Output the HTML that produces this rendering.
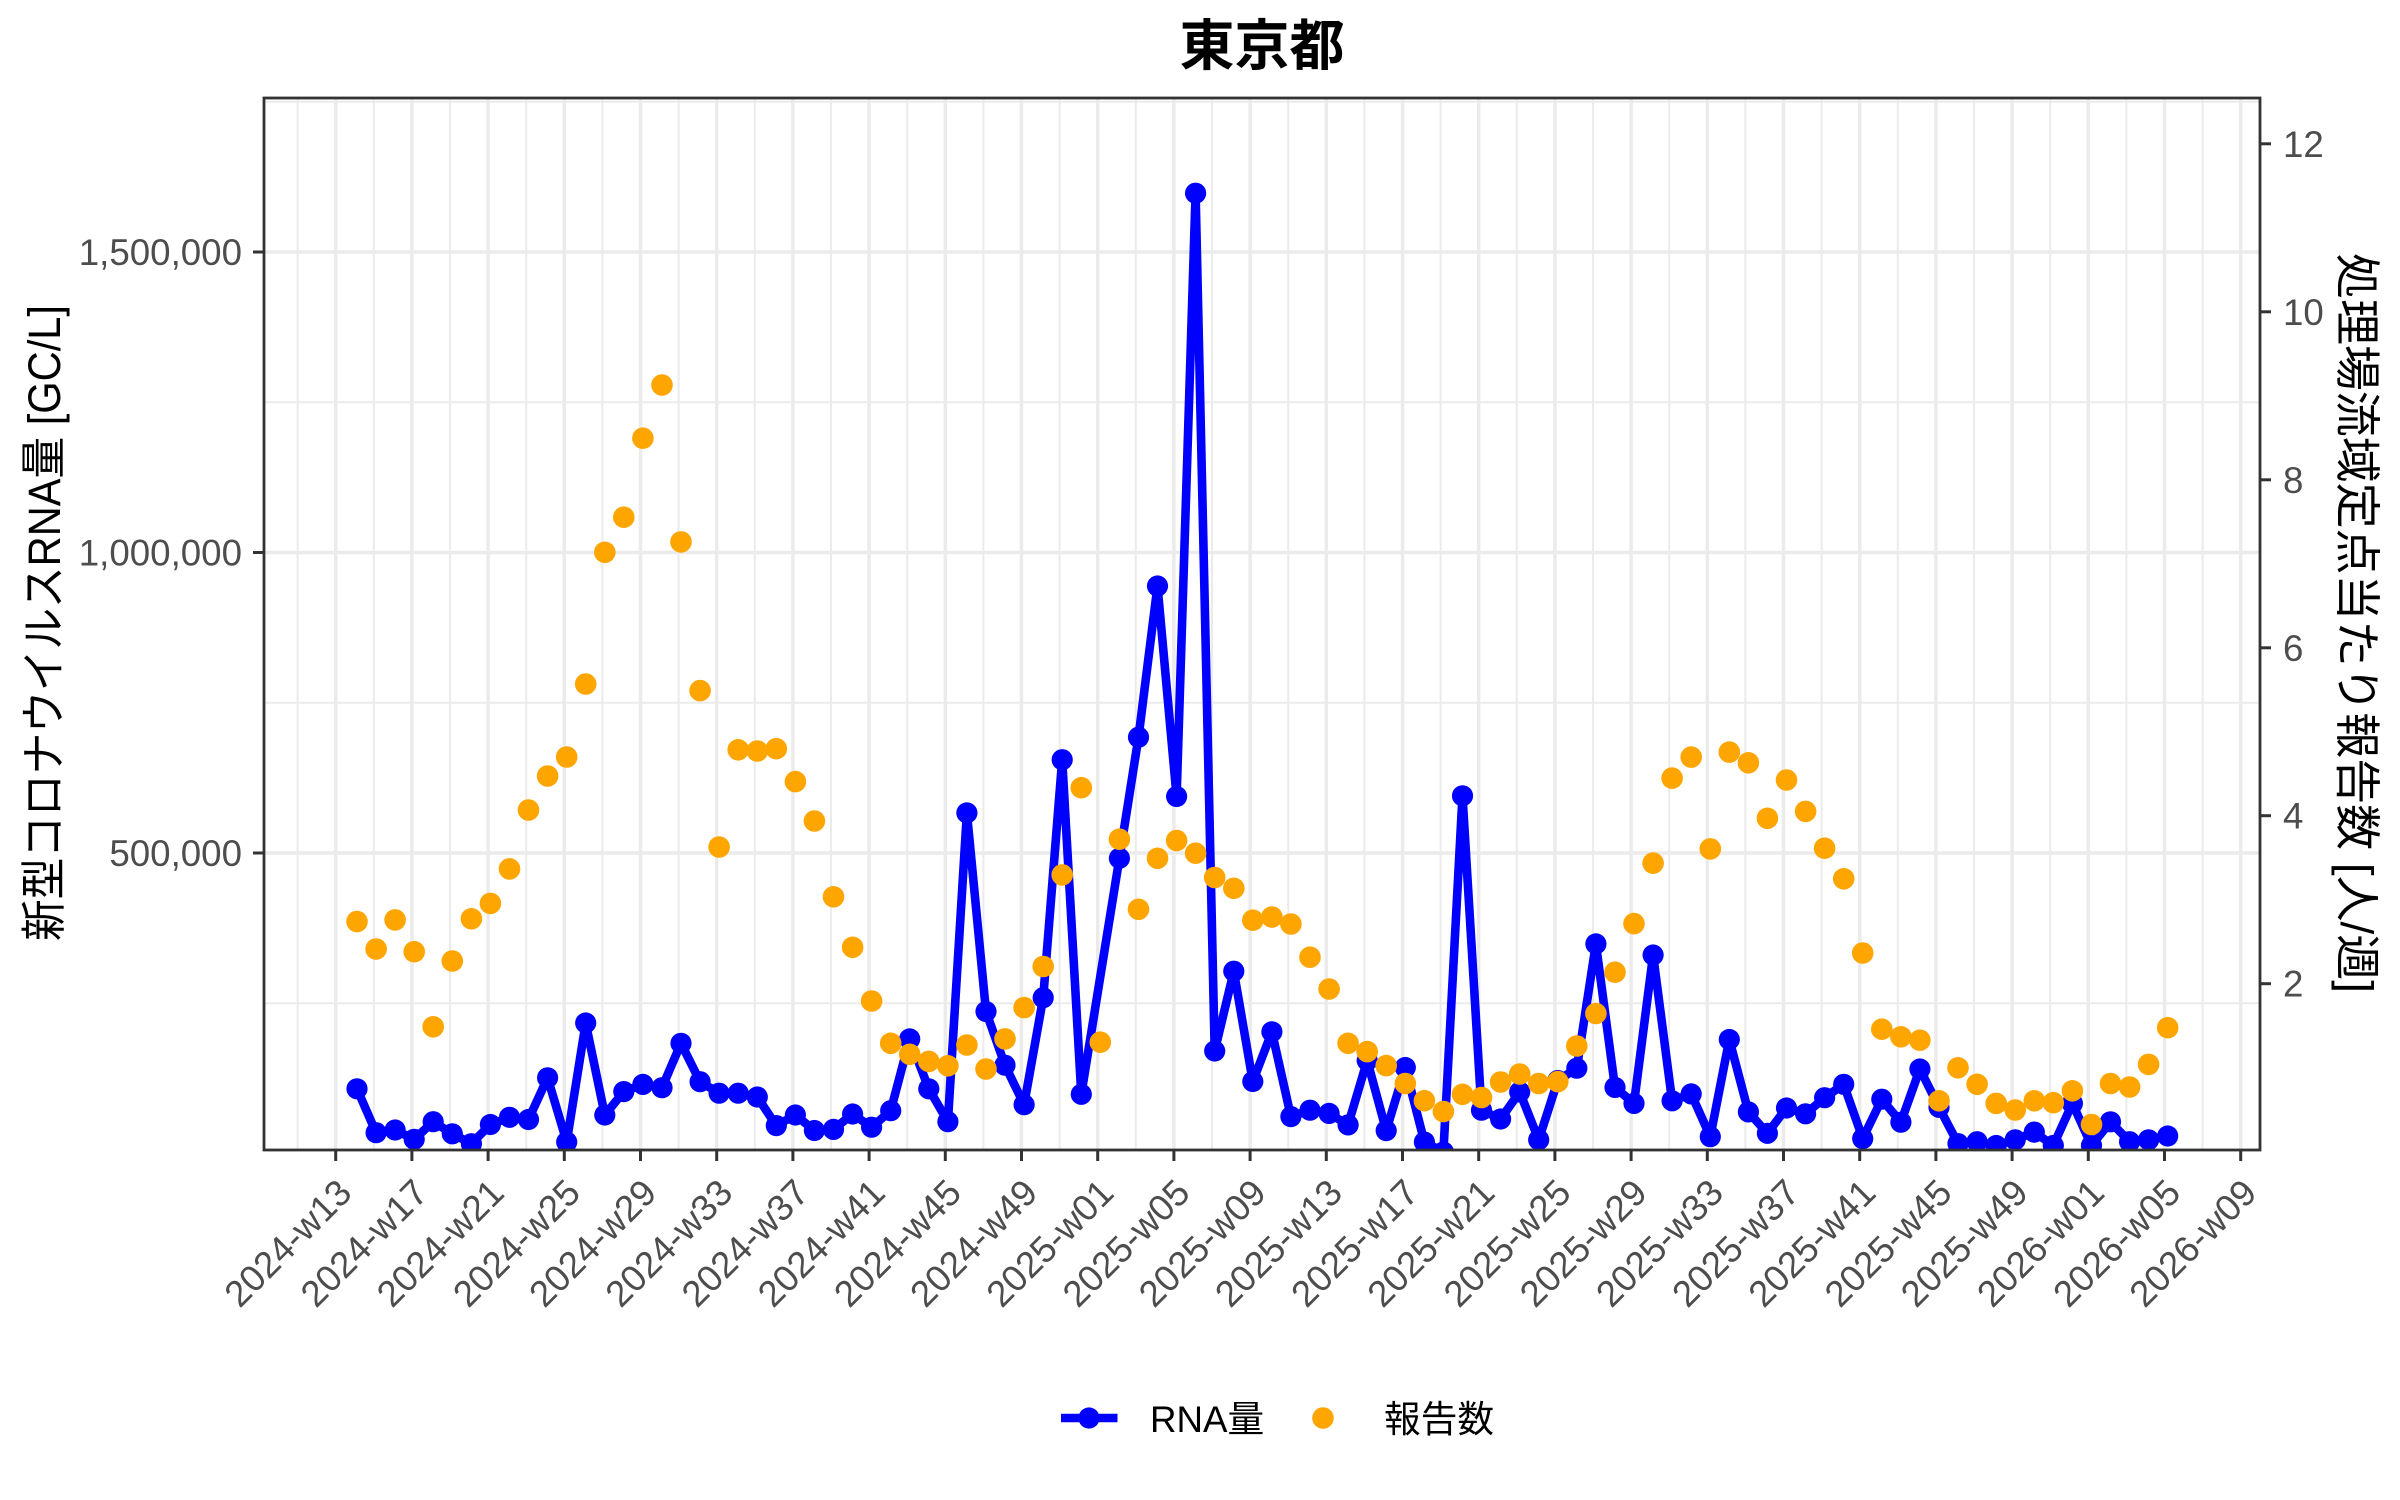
<!DOCTYPE html>
<html><head><meta charset="utf-8"><style>
html,body{margin:0;padding:0;background:#fff;}
svg{display:block;}
text{font-family:"Liberation Sans","Noto Sans CJK JP",sans-serif;}
</style></head><body>
<svg width="2400" height="1500" viewBox="0 0 2400 1500" xmlns="http://www.w3.org/2000/svg">
<rect x="0" y="0" width="2400" height="1500" fill="#fff"/>
<defs><clipPath id="pc"><rect x="264" y="98" width="1996" height="1052"/></clipPath></defs>
<g clip-path="url(#pc)">
<g stroke="#EBEBEB" stroke-width="2">
<line x1="264" x2="2260" y1="1003.3" y2="1003.3"/><line x1="264" x2="2260" y1="702.7" y2="702.7"/><line x1="264" x2="2260" y1="402.2" y2="402.2"/><line x1="264" x2="2260" y1="101.7" y2="101.7"/>
<line y1="98" y2="1150" x1="297.6" x2="297.6"/><line y1="98" y2="1150" x1="373.8" x2="373.8"/><line y1="98" y2="1150" x1="450" x2="450"/><line y1="98" y2="1150" x1="526.2" x2="526.2"/><line y1="98" y2="1150" x1="602.4" x2="602.4"/><line y1="98" y2="1150" x1="678.6" x2="678.6"/><line y1="98" y2="1150" x1="754.8" x2="754.8"/><line y1="98" y2="1150" x1="831" x2="831"/><line y1="98" y2="1150" x1="907.2" x2="907.2"/><line y1="98" y2="1150" x1="983.4" x2="983.4"/><line y1="98" y2="1150" x1="1059.6" x2="1059.6"/><line y1="98" y2="1150" x1="1135.8" x2="1135.8"/><line y1="98" y2="1150" x1="1212" x2="1212"/><line y1="98" y2="1150" x1="1288.2" x2="1288.2"/><line y1="98" y2="1150" x1="1364.4" x2="1364.4"/><line y1="98" y2="1150" x1="1440.6" x2="1440.6"/><line y1="98" y2="1150" x1="1516.8" x2="1516.8"/><line y1="98" y2="1150" x1="1593" x2="1593"/><line y1="98" y2="1150" x1="1669.2" x2="1669.2"/><line y1="98" y2="1150" x1="1745.4" x2="1745.4"/><line y1="98" y2="1150" x1="1821.6" x2="1821.6"/><line y1="98" y2="1150" x1="1897.8" x2="1897.8"/><line y1="98" y2="1150" x1="1974" x2="1974"/><line y1="98" y2="1150" x1="2050.2" x2="2050.2"/><line y1="98" y2="1150" x1="2126.4" x2="2126.4"/><line y1="98" y2="1150" x1="2202.6" x2="2202.6"/>
</g>
<g stroke="#EBEBEB" stroke-width="3.5">
<line x1="264" x2="2260" y1="853" y2="853"/><line x1="264" x2="2260" y1="552.5" y2="552.5"/><line x1="264" x2="2260" y1="252" y2="252"/>
<line y1="98" y2="1150" x1="335.7" x2="335.7"/><line y1="98" y2="1150" x1="411.9" x2="411.9"/><line y1="98" y2="1150" x1="488.1" x2="488.1"/><line y1="98" y2="1150" x1="564.3" x2="564.3"/><line y1="98" y2="1150" x1="640.5" x2="640.5"/><line y1="98" y2="1150" x1="716.7" x2="716.7"/><line y1="98" y2="1150" x1="792.9" x2="792.9"/><line y1="98" y2="1150" x1="869.1" x2="869.1"/><line y1="98" y2="1150" x1="945.3" x2="945.3"/><line y1="98" y2="1150" x1="1021.5" x2="1021.5"/><line y1="98" y2="1150" x1="1097.7" x2="1097.7"/><line y1="98" y2="1150" x1="1173.9" x2="1173.9"/><line y1="98" y2="1150" x1="1250.1" x2="1250.1"/><line y1="98" y2="1150" x1="1326.3" x2="1326.3"/><line y1="98" y2="1150" x1="1402.5" x2="1402.5"/><line y1="98" y2="1150" x1="1478.7" x2="1478.7"/><line y1="98" y2="1150" x1="1554.9" x2="1554.9"/><line y1="98" y2="1150" x1="1631.1" x2="1631.1"/><line y1="98" y2="1150" x1="1707.3" x2="1707.3"/><line y1="98" y2="1150" x1="1783.5" x2="1783.5"/><line y1="98" y2="1150" x1="1859.7" x2="1859.7"/><line y1="98" y2="1150" x1="1935.9" x2="1935.9"/><line y1="98" y2="1150" x1="2012.1" x2="2012.1"/><line y1="98" y2="1150" x1="2088.3" x2="2088.3"/><line y1="98" y2="1150" x1="2164.5" x2="2164.5"/><line y1="98" y2="1150" x1="2240.7" x2="2240.7"/>
</g>
<polyline fill="none" stroke="#0000FF" stroke-width="8.6" stroke-linejoin="round" points="357,1088.8 376.1,1132.7 395.1,1130 414.2,1139.3 433.2,1121.7 452.3,1133.8 471.4,1143.7 490.4,1124.5 509.5,1117.3 528.5,1119.5 547.6,1077.8 566.7,1142 585.7,1023 604.8,1115 623.8,1091.6 642.9,1084.4 662,1087.7 681,1043.3 700.1,1081.7 719.1,1093.2 738.2,1093.2 757.3,1097 776.3,1125.6 795.4,1115 814.4,1130.5 833.5,1129.4 852.6,1114 871.6,1127.2 890.7,1110.7 909.7,1038.9 928.8,1088.8 947.9,1121.7 966.9,812.9 986,1011.5 1005,1065.2 1024.1,1104.7 1043.2,997.7 1062.2,759.7 1081.3,1094.3 1119.4,858.3 1138.5,737.2 1157.5,586 1176.6,796.5 1195.6,193.2 1214.7,1051 1233.8,971.2 1252.8,1081.5 1271.9,1031.8 1290.9,1116.6 1310,1110.2 1329.1,1113.4 1348.1,1124.9 1367.2,1060.5 1386.2,1130.6 1405.3,1067.5 1424.4,1142 1443.4,1152 1462.5,795.8 1481.5,1110.2 1500.6,1119 1519.7,1092 1538.7,1139.8 1557.8,1080.5 1576.8,1068.2 1595.9,943.9 1615,1087.4 1634,1103.4 1653.1,955 1672.1,1100.8 1691.2,1093.9 1710.3,1136.7 1729.3,1039.5 1748.4,1111.9 1767.4,1133.3 1786.5,1108 1805.6,1113.8 1824.6,1097.7 1843.7,1084.3 1862.7,1138.6 1881.8,1099.2 1900.9,1122.2 1919.9,1069 1939,1107.3 1958,1143.6 1977.1,1141.7 1996.2,1145.5 2015.2,1139.8 2034.3,1132.1 2053.3,1145.5 2072.4,1103.4 2091.5,1145.5 2110.5,1121.8 2129.6,1141.7 2148.6,1139.8 2167.7,1136"/>
<g fill="#0000FF">
<circle cx="357" cy="1088.8" r="10.6"/><circle cx="376.1" cy="1132.7" r="10.6"/><circle cx="395.1" cy="1130" r="10.6"/><circle cx="414.2" cy="1139.3" r="10.6"/><circle cx="433.2" cy="1121.7" r="10.6"/><circle cx="452.3" cy="1133.8" r="10.6"/><circle cx="471.4" cy="1143.7" r="10.6"/><circle cx="490.4" cy="1124.5" r="10.6"/><circle cx="509.5" cy="1117.3" r="10.6"/><circle cx="528.5" cy="1119.5" r="10.6"/><circle cx="547.6" cy="1077.8" r="10.6"/><circle cx="566.7" cy="1142" r="10.6"/><circle cx="585.7" cy="1023" r="10.6"/><circle cx="604.8" cy="1115" r="10.6"/><circle cx="623.8" cy="1091.6" r="10.6"/><circle cx="642.9" cy="1084.4" r="10.6"/><circle cx="662" cy="1087.7" r="10.6"/><circle cx="681" cy="1043.3" r="10.6"/><circle cx="700.1" cy="1081.7" r="10.6"/><circle cx="719.1" cy="1093.2" r="10.6"/><circle cx="738.2" cy="1093.2" r="10.6"/><circle cx="757.3" cy="1097" r="10.6"/><circle cx="776.3" cy="1125.6" r="10.6"/><circle cx="795.4" cy="1115" r="10.6"/><circle cx="814.4" cy="1130.5" r="10.6"/><circle cx="833.5" cy="1129.4" r="10.6"/><circle cx="852.6" cy="1114" r="10.6"/><circle cx="871.6" cy="1127.2" r="10.6"/><circle cx="890.7" cy="1110.7" r="10.6"/><circle cx="909.7" cy="1038.9" r="10.6"/><circle cx="928.8" cy="1088.8" r="10.6"/><circle cx="947.9" cy="1121.7" r="10.6"/><circle cx="966.9" cy="812.9" r="10.6"/><circle cx="986" cy="1011.5" r="10.6"/><circle cx="1005" cy="1065.2" r="10.6"/><circle cx="1024.1" cy="1104.7" r="10.6"/><circle cx="1043.2" cy="997.7" r="10.6"/><circle cx="1062.2" cy="759.7" r="10.6"/><circle cx="1081.3" cy="1094.3" r="10.6"/><circle cx="1119.4" cy="858.3" r="10.6"/><circle cx="1138.5" cy="737.2" r="10.6"/><circle cx="1157.5" cy="586" r="10.6"/><circle cx="1176.6" cy="796.5" r="10.6"/><circle cx="1195.6" cy="193.2" r="10.6"/><circle cx="1214.7" cy="1051" r="10.6"/><circle cx="1233.8" cy="971.2" r="10.6"/><circle cx="1252.8" cy="1081.5" r="10.6"/><circle cx="1271.9" cy="1031.8" r="10.6"/><circle cx="1290.9" cy="1116.6" r="10.6"/><circle cx="1310" cy="1110.2" r="10.6"/><circle cx="1329.1" cy="1113.4" r="10.6"/><circle cx="1348.1" cy="1124.9" r="10.6"/><circle cx="1367.2" cy="1060.5" r="10.6"/><circle cx="1386.2" cy="1130.6" r="10.6"/><circle cx="1405.3" cy="1067.5" r="10.6"/><circle cx="1424.4" cy="1142" r="10.6"/><circle cx="1443.4" cy="1152" r="10.6"/><circle cx="1462.5" cy="795.8" r="10.6"/><circle cx="1481.5" cy="1110.2" r="10.6"/><circle cx="1500.6" cy="1119" r="10.6"/><circle cx="1519.7" cy="1092" r="10.6"/><circle cx="1538.7" cy="1139.8" r="10.6"/><circle cx="1557.8" cy="1080.5" r="10.6"/><circle cx="1576.8" cy="1068.2" r="10.6"/><circle cx="1595.9" cy="943.9" r="10.6"/><circle cx="1615" cy="1087.4" r="10.6"/><circle cx="1634" cy="1103.4" r="10.6"/><circle cx="1653.1" cy="955" r="10.6"/><circle cx="1672.1" cy="1100.8" r="10.6"/><circle cx="1691.2" cy="1093.9" r="10.6"/><circle cx="1710.3" cy="1136.7" r="10.6"/><circle cx="1729.3" cy="1039.5" r="10.6"/><circle cx="1748.4" cy="1111.9" r="10.6"/><circle cx="1767.4" cy="1133.3" r="10.6"/><circle cx="1786.5" cy="1108" r="10.6"/><circle cx="1805.6" cy="1113.8" r="10.6"/><circle cx="1824.6" cy="1097.7" r="10.6"/><circle cx="1843.7" cy="1084.3" r="10.6"/><circle cx="1862.7" cy="1138.6" r="10.6"/><circle cx="1881.8" cy="1099.2" r="10.6"/><circle cx="1900.9" cy="1122.2" r="10.6"/><circle cx="1919.9" cy="1069" r="10.6"/><circle cx="1939" cy="1107.3" r="10.6"/><circle cx="1958" cy="1143.6" r="10.6"/><circle cx="1977.1" cy="1141.7" r="10.6"/><circle cx="1996.2" cy="1145.5" r="10.6"/><circle cx="2015.2" cy="1139.8" r="10.6"/><circle cx="2034.3" cy="1132.1" r="10.6"/><circle cx="2053.3" cy="1145.5" r="10.6"/><circle cx="2072.4" cy="1103.4" r="10.6"/><circle cx="2091.5" cy="1145.5" r="10.6"/><circle cx="2110.5" cy="1121.8" r="10.6"/><circle cx="2129.6" cy="1141.7" r="10.6"/><circle cx="2148.6" cy="1139.8" r="10.6"/><circle cx="2167.7" cy="1136" r="10.6"/>
</g>
<g fill="#FFA500">
<circle cx="357" cy="921.5" r="10.8"/><circle cx="376.1" cy="949" r="10.8"/><circle cx="395.1" cy="919.9" r="10.8"/><circle cx="414.2" cy="951.7" r="10.8"/><circle cx="433.2" cy="1026.8" r="10.8"/><circle cx="452.3" cy="961" r="10.8"/><circle cx="471.4" cy="918.8" r="10.8"/><circle cx="490.4" cy="903.4" r="10.8"/><circle cx="509.5" cy="868.9" r="10.8"/><circle cx="528.5" cy="810" r="10.8"/><circle cx="547.6" cy="776" r="10.8"/><circle cx="566.7" cy="757" r="10.8"/><circle cx="585.7" cy="684" r="10.8"/><circle cx="604.8" cy="552.3" r="10.8"/><circle cx="623.8" cy="517.2" r="10.8"/><circle cx="642.9" cy="438.2" r="10.8"/><circle cx="662" cy="385" r="10.8"/><circle cx="681" cy="541.9" r="10.8"/><circle cx="700.1" cy="690.6" r="10.8"/><circle cx="719.1" cy="847" r="10.8"/><circle cx="738.2" cy="749.8" r="10.8"/><circle cx="757.3" cy="751" r="10.8"/><circle cx="776.3" cy="748.7" r="10.8"/><circle cx="795.4" cy="781.6" r="10.8"/><circle cx="814.4" cy="821" r="10.8"/><circle cx="833.5" cy="896.8" r="10.8"/><circle cx="852.6" cy="947.3" r="10.8"/><circle cx="871.6" cy="1001" r="10.8"/><circle cx="890.7" cy="1043.3" r="10.8"/><circle cx="909.7" cy="1054.3" r="10.8"/><circle cx="928.8" cy="1061.4" r="10.8"/><circle cx="947.9" cy="1065.8" r="10.8"/><circle cx="966.9" cy="1045" r="10.8"/><circle cx="986" cy="1069" r="10.8"/><circle cx="1005" cy="1038.9" r="10.8"/><circle cx="1024.1" cy="1007.6" r="10.8"/><circle cx="1043.2" cy="966.5" r="10.8"/><circle cx="1062.2" cy="874.9" r="10.8"/><circle cx="1081.3" cy="787.7" r="10.8"/><circle cx="1100.3" cy="1042.2" r="10.8"/><circle cx="1119.4" cy="839.2" r="10.8"/><circle cx="1138.5" cy="909.3" r="10.8"/><circle cx="1157.5" cy="858.3" r="10.8"/><circle cx="1176.6" cy="840.5" r="10.8"/><circle cx="1195.6" cy="853.2" r="10.8"/><circle cx="1214.7" cy="877.5" r="10.8"/><circle cx="1233.8" cy="888.3" r="10.8"/><circle cx="1252.8" cy="920.2" r="10.8"/><circle cx="1271.9" cy="917" r="10.8"/><circle cx="1290.9" cy="924" r="10.8"/><circle cx="1310" cy="957.2" r="10.8"/><circle cx="1329.1" cy="989" r="10.8"/><circle cx="1348.1" cy="1043.3" r="10.8"/><circle cx="1367.2" cy="1051.6" r="10.8"/><circle cx="1386.2" cy="1065.6" r="10.8"/><circle cx="1405.3" cy="1083.5" r="10.8"/><circle cx="1424.4" cy="1100.7" r="10.8"/><circle cx="1443.4" cy="1111.5" r="10.8"/><circle cx="1462.5" cy="1094.3" r="10.8"/><circle cx="1481.5" cy="1097.5" r="10.8"/><circle cx="1500.6" cy="1082" r="10.8"/><circle cx="1519.7" cy="1074" r="10.8"/><circle cx="1538.7" cy="1083.5" r="10.8"/><circle cx="1557.8" cy="1081.6" r="10.8"/><circle cx="1576.8" cy="1046" r="10.8"/><circle cx="1595.9" cy="1013.5" r="10.8"/><circle cx="1615" cy="972.2" r="10.8"/><circle cx="1634" cy="923.6" r="10.8"/><circle cx="1653.1" cy="863.1" r="10.8"/><circle cx="1672.1" cy="778.1" r="10.8"/><circle cx="1691.2" cy="757.1" r="10.8"/><circle cx="1710.3" cy="848.9" r="10.8"/><circle cx="1729.3" cy="752.1" r="10.8"/><circle cx="1748.4" cy="762.8" r="10.8"/><circle cx="1767.4" cy="818.3" r="10.8"/><circle cx="1786.5" cy="780" r="10.8"/><circle cx="1805.6" cy="811.4" r="10.8"/><circle cx="1824.6" cy="848.2" r="10.8"/><circle cx="1843.7" cy="878.8" r="10.8"/><circle cx="1862.7" cy="953" r="10.8"/><circle cx="1881.8" cy="1029.2" r="10.8"/><circle cx="1900.9" cy="1036.8" r="10.8"/><circle cx="1919.9" cy="1040.2" r="10.8"/><circle cx="1939" cy="1100.8" r="10.8"/><circle cx="1958" cy="1067.8" r="10.8"/><circle cx="1977.1" cy="1084.3" r="10.8"/><circle cx="1996.2" cy="1103.4" r="10.8"/><circle cx="2015.2" cy="1110" r="10.8"/><circle cx="2034.3" cy="1100.8" r="10.8"/><circle cx="2053.3" cy="1102.7" r="10.8"/><circle cx="2072.4" cy="1090.8" r="10.8"/><circle cx="2091.5" cy="1124.5" r="10.8"/><circle cx="2110.5" cy="1083.5" r="10.8"/><circle cx="2129.6" cy="1087" r="10.8"/><circle cx="2148.6" cy="1064.4" r="10.8"/><circle cx="2167.7" cy="1027.7" r="10.8"/>
</g>
</g>
<rect x="264" y="98" width="1996" height="1052" fill="none" stroke="#333333" stroke-width="2.8"/>
<g stroke="#333333" stroke-width="3">
<line x1="253" x2="264" y1="853" y2="853"/><line x1="253" x2="264" y1="552.5" y2="552.5"/><line x1="253" x2="264" y1="252" y2="252"/>
<line x1="2260" x2="2271" y1="983.7" y2="983.7"/><line x1="2260" x2="2271" y1="815.7" y2="815.7"/><line x1="2260" x2="2271" y1="647.8" y2="647.8"/><line x1="2260" x2="2271" y1="479.8" y2="479.8"/><line x1="2260" x2="2271" y1="311.8" y2="311.8"/><line x1="2260" x2="2271" y1="143.8" y2="143.8"/>
<line y1="1150" y2="1161" x1="335.7" x2="335.7"/><line y1="1150" y2="1161" x1="411.9" x2="411.9"/><line y1="1150" y2="1161" x1="488.1" x2="488.1"/><line y1="1150" y2="1161" x1="564.3" x2="564.3"/><line y1="1150" y2="1161" x1="640.5" x2="640.5"/><line y1="1150" y2="1161" x1="716.7" x2="716.7"/><line y1="1150" y2="1161" x1="792.9" x2="792.9"/><line y1="1150" y2="1161" x1="869.1" x2="869.1"/><line y1="1150" y2="1161" x1="945.3" x2="945.3"/><line y1="1150" y2="1161" x1="1021.5" x2="1021.5"/><line y1="1150" y2="1161" x1="1097.7" x2="1097.7"/><line y1="1150" y2="1161" x1="1173.9" x2="1173.9"/><line y1="1150" y2="1161" x1="1250.1" x2="1250.1"/><line y1="1150" y2="1161" x1="1326.3" x2="1326.3"/><line y1="1150" y2="1161" x1="1402.5" x2="1402.5"/><line y1="1150" y2="1161" x1="1478.7" x2="1478.7"/><line y1="1150" y2="1161" x1="1554.9" x2="1554.9"/><line y1="1150" y2="1161" x1="1631.1" x2="1631.1"/><line y1="1150" y2="1161" x1="1707.3" x2="1707.3"/><line y1="1150" y2="1161" x1="1783.5" x2="1783.5"/><line y1="1150" y2="1161" x1="1859.7" x2="1859.7"/><line y1="1150" y2="1161" x1="1935.9" x2="1935.9"/><line y1="1150" y2="1161" x1="2012.1" x2="2012.1"/><line y1="1150" y2="1161" x1="2088.3" x2="2088.3"/><line y1="1150" y2="1161" x1="2164.5" x2="2164.5"/><line y1="1150" y2="1161" x1="2240.7" x2="2240.7"/>
</g>
<g fill="#4D4D4D" font-size="36.7">
<text x="242" y="866" text-anchor="end">500,000</text>
<text x="242" y="565.5" text-anchor="end">1,000,000</text>
<text x="242" y="265" text-anchor="end">1,500,000</text>
<text x="2283" y="996.7">2</text>
<text x="2283" y="828.7">4</text>
<text x="2283" y="660.8">6</text>
<text x="2283" y="492.8">8</text>
<text x="2283" y="324.8">10</text>
<text x="2283" y="156.8">12</text>
</g>
<g fill="#4D4D4D" font-size="36.7" text-anchor="end">
<text transform="translate(353.7,1195) rotate(-45)">2024-w13</text>
<text transform="translate(429.9,1195) rotate(-45)">2024-w17</text>
<text transform="translate(506.1,1195) rotate(-45)">2024-w21</text>
<text transform="translate(582.3,1195) rotate(-45)">2024-w25</text>
<text transform="translate(658.5,1195) rotate(-45)">2024-w29</text>
<text transform="translate(734.7,1195) rotate(-45)">2024-w33</text>
<text transform="translate(810.9,1195) rotate(-45)">2024-w37</text>
<text transform="translate(887.1,1195) rotate(-45)">2024-w41</text>
<text transform="translate(963.3,1195) rotate(-45)">2024-w45</text>
<text transform="translate(1039.5,1195) rotate(-45)">2024-w49</text>
<text transform="translate(1115.7,1195) rotate(-45)">2025-w01</text>
<text transform="translate(1191.9,1195) rotate(-45)">2025-w05</text>
<text transform="translate(1268.1,1195) rotate(-45)">2025-w09</text>
<text transform="translate(1344.3,1195) rotate(-45)">2025-w13</text>
<text transform="translate(1420.5,1195) rotate(-45)">2025-w17</text>
<text transform="translate(1496.7,1195) rotate(-45)">2025-w21</text>
<text transform="translate(1572.9,1195) rotate(-45)">2025-w25</text>
<text transform="translate(1649.1,1195) rotate(-45)">2025-w29</text>
<text transform="translate(1725.3,1195) rotate(-45)">2025-w33</text>
<text transform="translate(1801.5,1195) rotate(-45)">2025-w37</text>
<text transform="translate(1877.7,1195) rotate(-45)">2025-w41</text>
<text transform="translate(1953.9,1195) rotate(-45)">2025-w45</text>
<text transform="translate(2030.1,1195) rotate(-45)">2025-w49</text>
<text transform="translate(2106.3,1195) rotate(-45)">2026-w01</text>
<text transform="translate(2182.5,1195) rotate(-45)">2026-w05</text>
<text transform="translate(2258.7,1195) rotate(-45)">2026-w09</text>
</g>
<text x="1262" y="65" text-anchor="middle" font-size="55" font-weight="bold" fill="#000">東京都</text>
<text transform="translate(60,623) rotate(-90)" text-anchor="middle" font-size="45.8" fill="#000" textLength="636" lengthAdjust="spacingAndGlyphs">新型コロナウイルスRNA量 [GC/L]</text>
<text transform="translate(2341,623) rotate(90)" text-anchor="middle" font-size="45.8" fill="#000" textLength="740" lengthAdjust="spacingAndGlyphs">処理場流域定点当たり報告数 [人/週]</text>
<line x1="1061" x2="1117.5" y1="1418" y2="1418" stroke="#0000FF" stroke-width="8.6"/>
<circle cx="1089" cy="1418" r="10.6" fill="#0000FF"/>
<text x="1150" y="1432" font-size="36.7" fill="#000">RNA量</text>
<circle cx="1323" cy="1418" r="10.8" fill="#FFA500"/>
<text x="1384" y="1432" font-size="36.7" fill="#000">報告数</text>
</svg>
</body></html>
